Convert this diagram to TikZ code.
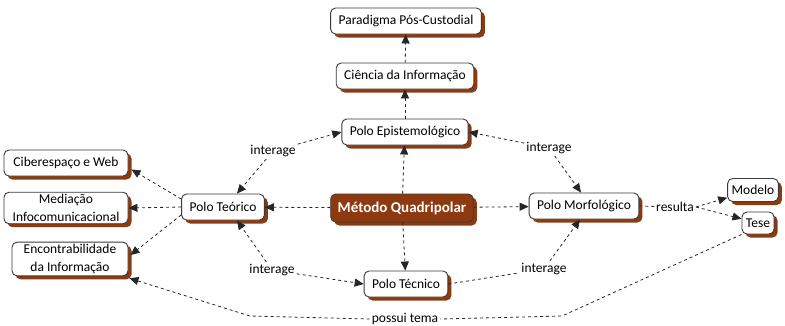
\documentclass[tikz,border=0pt]{standalone}
\usepackage{fontspec}
\setmainfont{Carlito}
\usetikzlibrary{arrows.meta,shadows,calc}
\definecolor{rust}{HTML}{8E3A10}
\definecolor{boxline}{HTML}{3A3A3A}
\tikzset{
  box/.style={draw=boxline, line width=0.9pt, rounded corners=5pt, fill=white,
    font=\fontsize{13.5}{18}\selectfont, inner xsep=8pt, inner ysep=3pt,
    minimum height=26pt, align=center,
    drop shadow={shadow xshift=3.5pt, shadow yshift=-3.5pt, fill=rust, opacity=1}},
  mainbox/.style={box, fill=rust, text=white, font=\fontsize{15}{17}\selectfont\bfseries,
    inner xsep=7pt, minimum height=28pt},
  lbl/.style={font=\fontsize{13.5}{16}\selectfont, inner sep=2pt},
  link/.style={draw=black!85, line width=0.8pt, dash pattern=on 3pt off 3pt},
  conn/.style={link, -{Triangle[length=9pt,width=8pt]}},
}
\begin{document}
\begin{tikzpicture}[x=1pt,y=-1pt]
\useasboundingbox (0,0) rectangle (785,325);
% nodes
\node[box] (par) at (406,21) {Paradigma Pós-Custodial};
\node[box] (cie) at (405,76) {Ciência da Informação};
\node[box] (epi) at (405,132) {Polo Epistemológico};
\node[mainbox] (met) at (402,208) {Método Quadripolar};
\node[box] (teo) at (223,207) {Polo Teórico};
\node[box] (mor) at (584,206) {Polo Morfológico};
\node[box] (tec) at (406,284) {Polo Técnico};
\node[box, minimum width=124pt] (cib) at (66,163) {Ciberespaço e Web};
\node[box, minimum width=124pt, inner ysep=2pt] (med) at (66,208) {Mediação\\Infocomunicacional};
\node[box, minimum width=116pt, inner ysep=2pt] (enc) at (70,259) {Encontrabilidade\\da Informação};
\node[box, inner xsep=4pt, minimum height=23pt] (mod) at (753,190) {Modelo};
\node[box, inner xsep=4pt, minimum height=22pt] (tes) at (758,223) {Tese};
% labels
\node[lbl] (l1) at (273,151) {interage};
\node[lbl] (l2) at (549,148) {interage};
\node[lbl] (l3) at (272,270) {interage};
\node[lbl] (l4) at (544,269) {interage};
\node[lbl] (res) at (675,207) {resulta};
\node[lbl] (pos) at (405,319) {possui tema};
\coordinate (b1) at (562,316);
\coordinate (b2) at (250,316);
% connectors
\draw[conn] (met) -- (epi);
\draw[conn] (met) -- (tec);
\draw[conn] (met) -- (teo);
\draw[conn] (met) -- (mor);
\draw[conn] (epi) -- (cie);
\draw[conn] (cie) -- (par);
\draw[conn] ($(teo.west)+(0,-8)$) -- ($(cib.south east)+(3,-7)$);
\draw[conn] (teo.west) -- (med.east);
\draw[conn] ($(teo.west)+(0,8)$) -- ($(enc.east)+(2,-4)$);
\draw[conn] (l1) -- (epi.west);
\draw[conn] (l1) -- ($(teo.north)+(14,0)$);
\draw[conn] (l2) -- (epi.east);
\draw[conn] (l2) -- ($(mor.north)+(-3,0)$);
\draw[conn] (l3) -- ($(teo.south)+(14,0)$);
\draw[conn] (l3) -- (tec.west);
\draw[link] (tec.east) -- (l4);
\draw[conn] (l4) -- ($(mor.south)+(-4,0)$);
\draw[link] (mor.east) -- (res);
\draw[conn] (res.east) -- (mod);
\draw[conn] (res.east) -- (tes);
\draw[link] (tes.south west) -- (b1) -- (pos.east);
\draw[conn] (pos.west) -- (b2) -- ($(enc.south east)+(1,2)$);
\end{tikzpicture}
\end{document}
